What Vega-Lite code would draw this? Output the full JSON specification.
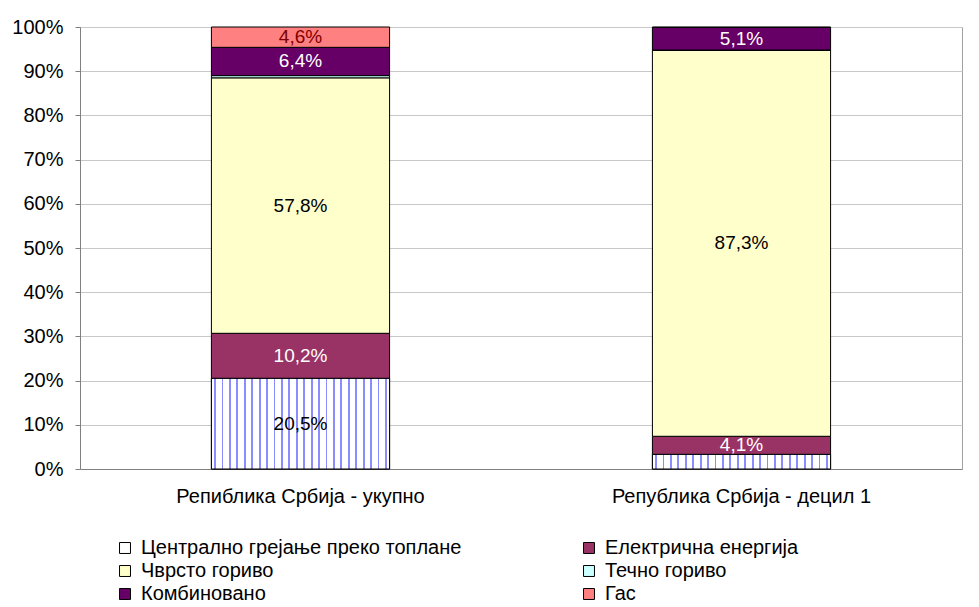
{
  "$schema": "https://vega.github.io/schema/vega-lite/v6.json",
  "autosize": "none",
  "width": 882,
  "height": 442,
  "padding": {"left": 80, "top": 27, "right": 17, "bottom": 138},
  "background": "white",
  "config": {
    "locale": {"number": {"decimal": ",", "thousands": ".", "grouping": [3], "currency": ["", ""]}},
    "font": "Liberation Sans",
    "view": {"stroke": "#a0a0a0", "strokeWidth": 1}
  },
  "data": {
    "values": [
      {"region": "Репиблика Србија - укупно", "series": "Централно грејање преко топлане", "order": 1, "value": 0.205},
      {"region": "Репиблика Србија - укупно", "series": "Електрична енергија", "order": 2, "value": 0.102},
      {"region": "Репиблика Србија - укупно", "series": "Чврсто гориво", "order": 3, "value": 0.578},
      {"region": "Репиблика Србија - укупно", "series": "Течно гориво", "order": 4, "value": 0.005},
      {"region": "Репиблика Србија - укупно", "series": "Комбиновано", "order": 5, "value": 0.064},
      {"region": "Репиблика Србија - укупно", "series": "Гас", "order": 6, "value": 0.046},
      {"region": "Република Србија - децил 1", "series": "Централно грејање преко топлане", "order": 1, "value": 0.033},
      {"region": "Република Србија - децил 1", "series": "Електрична енергија", "order": 2, "value": 0.041},
      {"region": "Република Србија - децил 1", "series": "Чврсто гориво", "order": 3, "value": 0.873},
      {"region": "Република Србија - децил 1", "series": "Течно гориво", "order": 4, "value": 0.001},
      {"region": "Република Србија - децил 1", "series": "Комбиновано", "order": 5, "value": 0.051},
      {"region": "Република Србија - децил 1", "series": "Гас", "order": 6, "value": 0.001}
    ]
  },
  "encoding": {
    "x": {
      "field": "region", "type": "nominal", "sort": null, "title": null,
      "scale": {"paddingInner": 0.596, "paddingOuter": 0.298},
      "axis": {"labelAngle": 0, "labelFontSize": 20, "labelColor": "#000", "ticks": false, "labelPadding": 17, "labelLimit": 500, "domainColor": "#808080"}
    }
  },
  "layer": [
    {
      "mark": {"type": "bar", "stroke": "#000", "strokeWidth": 1},
      "encoding": {
        "y": {
          "field": "value", "type": "quantitative", "stack": "zero", "title": null,
          "scale": {"domain": [0, 1], "nice": false},
          "axis": {"format": ".0%", "values": [0, 0.1, 0.2, 0.3, 0.4, 0.5, 0.6, 0.7, 0.8, 0.9, 1], "labelOverlap": false, "labelFontSize": 20, "labelColor": "#000", "gridColor": "#c8c8c8", "domainColor": "#808080", "tickColor": "#808080", "tickSize": 5, "labelPadding": 12}
        },
        "order": {"field": "order", "type": "quantitative"},
        "color": {
          "field": "series", "type": "nominal", "title": null,
          "scale": {
            "domain": ["Централно грејање преко топлане", "Електрична енергија", "Чврсто гориво", "Течно гориво", "Комбиновано", "Гас"],
            "range": ["#ffffff", "#993366", "#ffffcc", "#ccffff", "#660066", "#ff8080"]
          },
          "legend": {
            "orient": "none", "legendX": 35, "legendY": 511, "direction": "horizontal", "columns": 2,
            "symbolType": "square", "symbolSize": 120, "symbolStrokeColor": "#000", "symbolStrokeWidth": 1,
            "labelFontSize": 20, "labelColor": "#000", "labelLimit": 500, "columnPadding": 117, "rowPadding": 3, "labelOffset": 6, "padding": 0
          }
        }
      }
    },
    {
      "transform": [{"filter": "datum.series == 'Централно грејање преко топлане'"}],
      "mark": {
        "type": "bar", "stroke": "#000", "strokeWidth": 1,
        "fill": {
          "gradient": "linear", "x1": 0, "y1": 0, "x2": 1, "y2": 0,
          "stops": [
            {"offset": 0, "color": "#ffffff"},
            {"offset": 0.0156, "color": "#ffffff"}, {"offset": 0.0156, "color": "#8c8cff"}, {"offset": 0.0260, "color": "#8c8cff"}, {"offset": 0.0260, "color": "#ffffff"},
            {"offset": 0.0573, "color": "#ffffff"}, {"offset": 0.0573, "color": "#8c8cff"}, {"offset": 0.0677, "color": "#8c8cff"}, {"offset": 0.0677, "color": "#ffffff"},
            {"offset": 0.0990, "color": "#ffffff"}, {"offset": 0.0990, "color": "#8c8cff"}, {"offset": 0.1094, "color": "#8c8cff"}, {"offset": 0.1094, "color": "#ffffff"},
            {"offset": 0.1406, "color": "#ffffff"}, {"offset": 0.1406, "color": "#8c8cff"}, {"offset": 0.1510, "color": "#8c8cff"}, {"offset": 0.1510, "color": "#ffffff"},
            {"offset": 0.1823, "color": "#ffffff"}, {"offset": 0.1823, "color": "#8c8cff"}, {"offset": 0.1927, "color": "#8c8cff"}, {"offset": 0.1927, "color": "#ffffff"},
            {"offset": 0.2240, "color": "#ffffff"}, {"offset": 0.2240, "color": "#8c8cff"}, {"offset": 0.2344, "color": "#8c8cff"}, {"offset": 0.2344, "color": "#ffffff"},
            {"offset": 0.2656, "color": "#ffffff"}, {"offset": 0.2656, "color": "#8c8cff"}, {"offset": 0.2760, "color": "#8c8cff"}, {"offset": 0.2760, "color": "#ffffff"},
            {"offset": 0.3073, "color": "#ffffff"}, {"offset": 0.3073, "color": "#8c8cff"}, {"offset": 0.3177, "color": "#8c8cff"}, {"offset": 0.3177, "color": "#ffffff"},
            {"offset": 0.3490, "color": "#ffffff"}, {"offset": 0.3490, "color": "#8c8cff"}, {"offset": 0.3594, "color": "#8c8cff"}, {"offset": 0.3594, "color": "#ffffff"},
            {"offset": 0.3906, "color": "#ffffff"}, {"offset": 0.3906, "color": "#8c8cff"}, {"offset": 0.4010, "color": "#8c8cff"}, {"offset": 0.4010, "color": "#ffffff"},
            {"offset": 0.4323, "color": "#ffffff"}, {"offset": 0.4323, "color": "#8c8cff"}, {"offset": 0.4427, "color": "#8c8cff"}, {"offset": 0.4427, "color": "#ffffff"},
            {"offset": 0.4740, "color": "#ffffff"}, {"offset": 0.4740, "color": "#8c8cff"}, {"offset": 0.4844, "color": "#8c8cff"}, {"offset": 0.4844, "color": "#ffffff"},
            {"offset": 0.5156, "color": "#ffffff"}, {"offset": 0.5156, "color": "#8c8cff"}, {"offset": 0.5260, "color": "#8c8cff"}, {"offset": 0.5260, "color": "#ffffff"},
            {"offset": 0.5573, "color": "#ffffff"}, {"offset": 0.5573, "color": "#8c8cff"}, {"offset": 0.5677, "color": "#8c8cff"}, {"offset": 0.5677, "color": "#ffffff"},
            {"offset": 0.5990, "color": "#ffffff"}, {"offset": 0.5990, "color": "#8c8cff"}, {"offset": 0.6094, "color": "#8c8cff"}, {"offset": 0.6094, "color": "#ffffff"},
            {"offset": 0.6406, "color": "#ffffff"}, {"offset": 0.6406, "color": "#8c8cff"}, {"offset": 0.6510, "color": "#8c8cff"}, {"offset": 0.6510, "color": "#ffffff"},
            {"offset": 0.6823, "color": "#ffffff"}, {"offset": 0.6823, "color": "#8c8cff"}, {"offset": 0.6927, "color": "#8c8cff"}, {"offset": 0.6927, "color": "#ffffff"},
            {"offset": 0.7240, "color": "#ffffff"}, {"offset": 0.7240, "color": "#8c8cff"}, {"offset": 0.7344, "color": "#8c8cff"}, {"offset": 0.7344, "color": "#ffffff"},
            {"offset": 0.7656, "color": "#ffffff"}, {"offset": 0.7656, "color": "#8c8cff"}, {"offset": 0.7760, "color": "#8c8cff"}, {"offset": 0.7760, "color": "#ffffff"},
            {"offset": 0.8073, "color": "#ffffff"}, {"offset": 0.8073, "color": "#8c8cff"}, {"offset": 0.8177, "color": "#8c8cff"}, {"offset": 0.8177, "color": "#ffffff"},
            {"offset": 0.8490, "color": "#ffffff"}, {"offset": 0.8490, "color": "#8c8cff"}, {"offset": 0.8594, "color": "#8c8cff"}, {"offset": 0.8594, "color": "#ffffff"},
            {"offset": 0.8906, "color": "#ffffff"}, {"offset": 0.8906, "color": "#8c8cff"}, {"offset": 0.9010, "color": "#8c8cff"}, {"offset": 0.9010, "color": "#ffffff"},
            {"offset": 0.9323, "color": "#ffffff"}, {"offset": 0.9323, "color": "#8c8cff"}, {"offset": 0.9427, "color": "#8c8cff"}, {"offset": 0.9427, "color": "#ffffff"},
            {"offset": 0.9740, "color": "#ffffff"}, {"offset": 0.9740, "color": "#8c8cff"}, {"offset": 0.9844, "color": "#8c8cff"}, {"offset": 0.9844, "color": "#ffffff"},
            {"offset": 1, "color": "#ffffff"}
          ]
        }
      },
      "encoding": {
        "y": {"field": "value", "type": "quantitative", "stack": null}
      }
    },
    {
      "transform": [
        {"stack": "value", "groupby": ["region"], "sort": [{"field": "order", "order": "ascending"}], "as": ["v0", "v1"]},
        {"calculate": "(datum.v0 + datum.v1) / 2", "as": "mid"},
        {"filter": "datum.value >= 0.04"}
      ],
      "mark": {"type": "text", "fontSize": 19, "baseline": "middle", "align": "center"},
      "encoding": {
        "y": {"field": "mid", "type": "quantitative"},
        "text": {"field": "value", "type": "quantitative", "format": ".1%"},
        "color": {
          "condition": [
            {"test": "datum.series == 'Електрична енергија' || datum.series == 'Комбиновано'", "value": "#ffffff"},
            {"test": "datum.series == 'Гас'", "value": "#800000"}
          ],
          "value": "#000000"
        }
      }
    }
  ]
}
